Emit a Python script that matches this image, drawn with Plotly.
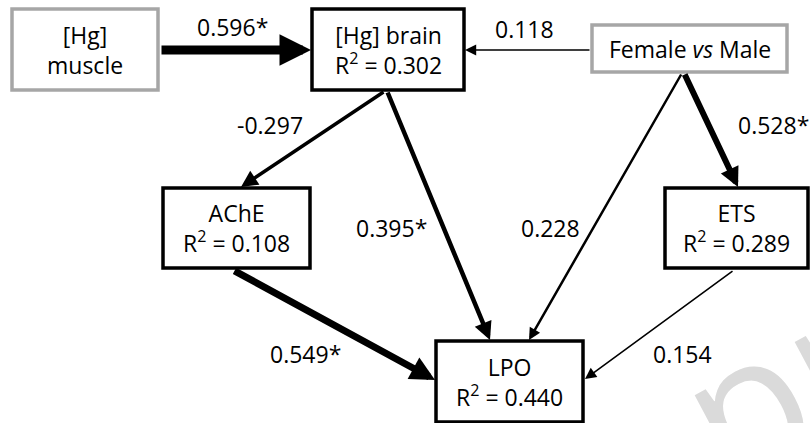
import plotly.graph_objects as go

# ---- data ----
node_names = ["muscle", "brain", "sex", "ache", "ets", "lpo"]
node_labels = ["[Hg]<br>muscle", "[Hg] brain<br>R<sup>2</sup> = 0.302", "Female <i>vs</i> Male",
               "AChE<br>R<sup>2</sup> = 0.108", "ETS<br>R<sup>2</sup> = 0.289", "LPO<br>R<sup>2</sup> = 0.440"]
r_squared = [None, 0.302, None, 0.108, 0.289, 0.440]
exogenous = [True, False, True, False, False, False]

edge_from = ["muscle", "sex", "brain", "brain", "sex", "sex", "ache", "ets"]
edge_to = ["brain", "brain", "ache", "lpo", "ets", "lpo", "lpo", "lpo"]
edge_coef = [0.596, 0.118, -0.297, 0.395, 0.528, 0.228, 0.549, 0.154]
edge_sig = [True, False, False, True, True, False, True, False]

# ---- layout (pixel coordinates) ----
box = {  # x0, y0, x1, y1
    "muscle": (12, 9, 158, 90),
    "brain": (312, 9, 464, 90),
    "sex": (592, 25, 787, 72),
    "ache": (163, 188, 310, 268),
    "ets": (665, 188, 808, 268),
    "lpo": (436, 341, 583, 422),
}
edge_tail = [(160, 50), (591, 50), (385, 91), (387, 91), (684, 73), (682, 73), (233, 270), (734, 270)]
edge_head = [(311, 50), (465, 50), (241, 187), (490, 340), (738, 187), (529, 340), (435, 380), (585, 379)]
edge_width = [9, 1.4, 3.5, 4.5, 6, 2.5, 7, 1.6]
edge_hsize = [0.7, 1.6, 0.95, 0.8, 0.65, 0.95, 0.7, 1.4]
label_pos = [(232, 27), (524, 29), (270, 125), (391, 228), (773, 125), (550, 228), (305, 354), (682, 354)]

FONT = "Open Sans"
FS = 23
fig = go.Figure()
fig.add_trace(go.Scatter(x=[0, 810], y=[0, 423], mode="markers", marker=dict(opacity=0), hoverinfo="skip", showlegend=False))

shapes = []
annotations = []

# watermark fragment
annotations.append(dict(x=800, y=356, xshift=26, xref="x", yref="y", text="pro", showarrow=False,
                        font=dict(family="Open Sans", size=185, color="#dadada"), textangle=-28))

for name, lab, exo in zip(node_names, node_labels, exogenous):
    x0, y0, x1, y1 = box[name]
    shapes.append(dict(type="rect", xref="x", yref="y", x0=x0, y0=y0, x1=x1, y1=y1,
                       line=dict(color="#a6a6a6" if exo else "#000000", width=3.5),
                       fillcolor="white", layer="above"))
    annotations.append(dict(x=(x0 + x1) / 2, y=(y0 + y1) / 2, xref="x", yref="y", text=lab,
                            showarrow=False, font=dict(family=FONT, size=FS, color="black"),
                            align="center"))

for i, (c, s) in enumerate(zip(edge_coef, edge_sig)):
    tx, ty = edge_tail[i]
    hx, hy = edge_head[i]
    annotations.append(dict(x=hx, y=hy, ax=tx, ay=ty, xref="x", yref="y", axref="x", ayref="y",
                            text="", showarrow=True, arrowhead=2, arrowwidth=edge_width[i],
                            arrowsize=edge_hsize[i], arrowcolor="black", standoff=0, startstandoff=0))
    lx, ly = label_pos[i]
    annotations.append(dict(x=lx, y=ly, xref="x", yref="y", text=f"{c:.3f}" + ("*" if s else ""),
                            showarrow=False, font=dict(family=FONT, size=FS, color="black")))

fig.update_layout(
    width=810, height=423, margin=dict(l=0, r=0, t=0, b=0),
    paper_bgcolor="white", plot_bgcolor="white",
    xaxis=dict(range=[0, 810], visible=False, fixedrange=True),
    yaxis=dict(range=[423, 0], visible=False, fixedrange=True),
    shapes=shapes, annotations=annotations, showlegend=False,
)
fig.write_html("out.html", config={"displayModeBar": False})
